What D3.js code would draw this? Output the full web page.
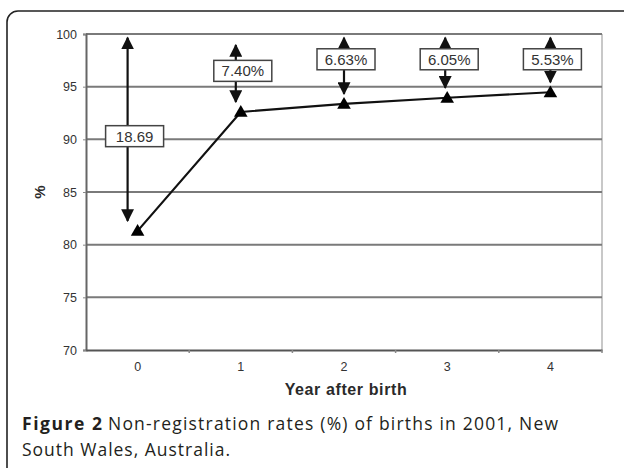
<!DOCTYPE html>
<html>
<head>
<meta charset="utf-8">
<script src="https://cdn.jsdelivr.net/npm/d3@7"></script>
<style>
  body { margin: 0; background: #fff; }
  svg { display: block; }
</style>
</head>
<body>
<div id="graph"></div>
<script>
// chart data
var years = [0, 1, 2, 3, 4];
var rates = [81.31, 92.60, 93.37, 93.95, 94.47]; // registered %
var gapLabels = ["18.69", "7.40%", "6.63%", "6.05%", "5.53%"];
var yTicks = [70, 75, 80, 85, 90, 95, 100];

var W = 624, H = 468;
var margin = { top: 34, right: 22, bottom: 118, left: 86 },
    width = W - margin.left - margin.right,
    height = H - margin.top - margin.bottom;

var root = d3.select("#graph")
    .append("svg")
    .attr("width", W)
    .attr("height", H);

// outer figure frame
root.append("rect")
    .attr("x", 7).attr("y", 11)
    .attr("width", 640).attr("height", 493)
    .attr("rx", 11)
    .attr("fill", "none")
    .attr("stroke", "#222")
    .attr("stroke-width", 1.6);

var svg = root.append("g")
    .attr("transform", "translate(" + margin.left + "," + margin.top + ")");

var x = d3.scaleBand()
    .domain(years)
    .range([0, width])
    .padding(0);

var y = d3.scaleLinear()
    .domain([70, 100])
    .range([height, 0]);

var cx = function(d) { return x(d) + x.bandwidth() / 2; };

// right border
svg.append("line")
    .attr("x1", width).attr("x2", width)
    .attr("y1", 0).attr("y2", height)
    .attr("stroke", "#c8c8c8")
    .attr("stroke-width", 2);

// gridlines
svg.selectAll(".grid")
    .data(yTicks.filter(function(d) { return d > 70; }))
    .enter().append("line")
    .attr("x1", 0).attr("x2", width)
    .attr("y1", function(d) { return y(d); })
    .attr("y2", function(d) { return y(d); })
    .attr("stroke", "#7a7a7a")
    .attr("stroke-width", 2);

// y axis
var yAxis = svg.append("g")
    .call(d3.axisLeft(y).tickValues(yTicks).tickSize(3).tickPadding(6));
yAxis.select(".domain").attr("stroke", "#666").attr("stroke-width", 2);
yAxis.selectAll(".tick line").attr("stroke", "#888");
yAxis.selectAll("text")
    .style("font-family", "Liberation Sans, Arial, sans-serif")
    .style("font-size", "12.5px")
    .attr("fill", "#333");

// x axis
var xAxis = svg.append("g")
    .attr("transform", "translate(0," + height + ")")
    .call(d3.axisBottom(x).tickSize(0).tickPadding(12));
xAxis.select(".domain").attr("stroke", "#555").attr("stroke-width", 2);
xAxis.selectAll("text")
    .style("font-family", "Liberation Sans, Arial, sans-serif")
    .style("font-size", "12.5px")
    .attr("fill", "#333");
// tick marks on band edges
xAxis.selectAll(".edge")
    .data(years.slice(1).concat([5]))
    .enter().append("line")
    .attr("x1", function(d, i) { return i < 4 ? x(years[i + 1]) : width; })
    .attr("x2", function(d, i) { return i < 4 ? x(years[i + 1]) : width; })
    .attr("y1", 0).attr("y2", 3)
    .attr("stroke", "#888")
    .attr("stroke-width", 1.5);

// axis titles
svg.append("text")
    .attr("x", width / 2 + 2)
    .attr("y", height + 45)
    .style("text-anchor", "middle")
    .style("font-family", "Liberation Sans, Arial, sans-serif")
    .style("font-size", "16px")
    .style("font-weight", "bold")
    .style("letter-spacing", "0.6px")
    .attr("fill", "#2a2a2a")
    .text("Year after birth");

svg.append("text")
    .attr("transform", "translate(" + (-41) + "," + (y(85)) + ") rotate(-90)")
    .style("text-anchor", "middle")
    .style("font-family", "Liberation Sans, Arial, sans-serif")
    .style("font-size", "15px")
    .style("font-weight", "bold")
    .attr("fill", "#2a2a2a")
    .text("%");

// arrow heads
var defs = root.append("defs");
defs.append("marker")
    .attr("id", "head")
    .attr("viewBox", "0 0 10 10")
    .attr("refX", 9).attr("refY", 5)
    .attr("markerWidth", 13).attr("markerHeight", 13)
    .attr("markerUnits", "userSpaceOnUse")
    .attr("orient", "auto-start-reverse")
    .append("path")
    .attr("d", "M0,0 L10,5 L0,10 Z")
    .attr("fill", "#111");

// line
var line = d3.line()
    .x(function(d, i) { return cx(years[i]); })
    .y(function(d) { return y(d); });

svg.append("path")
    .datum(rates)
    .attr("d", line)
    .attr("fill", "none")
    .attr("stroke", "#111")
    .attr("stroke-width", 2.2);

// triangle markers
svg.selectAll(".pt")
    .data(rates)
    .enter().append("path")
    .attr("d", d3.symbol().type(d3.symbolTriangle).size(80))
    .attr("transform", function(d, i) { return "translate(" + cx(years[i]) + "," + (y(d) + 1) + ")"; })
    .attr("fill", "#000");

// double arrows showing the gap to 100%
var arrowShift = [-10, -5, 0, -2, 0];
var labelY = [90.3, 96.5, 97.6, 97.6, 97.6];
svg.selectAll(".gap")
    .data(rates)
    .enter().append("line")
    .attr("x1", function(d, i) { return cx(years[i]) + arrowShift[i]; })
    .attr("x2", function(d, i) { return cx(years[i]) + arrowShift[i]; })
    .attr("y1", function(d, i) { return i == 1 ? y(98.95) : y(99.65); })
    .attr("y2", function(d) { return y(d) - 10; })
    .attr("stroke", "#111")
    .attr("stroke-width", 2.2)
    .attr("marker-start", "url(#head)")
    .attr("marker-end", "url(#head)");

// labels in boxes
var lab = svg.selectAll(".lab")
    .data(gapLabels)
    .enter().append("g")
    .attr("transform", function(d, i) { return "translate(" + (cx(years[i]) + (i == 0 ? -3 : 2)) + "," + y(labelY[i]) + ")"; });

lab.append("rect")
    .attr("x", -29).attr("y", -10.5)
    .attr("width", 58).attr("height", 21)
    .attr("fill", "#fff")
    .attr("stroke", "#444")
    .attr("stroke-width", 1.5);

lab.append("text")
    .attr("text-anchor", "middle")
    .attr("dy", "0.36em")
    .style("font-family", "Liberation Sans, Arial, sans-serif")
    .style("font-size", "15px")
    .attr("fill", "#333")
    .text(function(d) { return d; });

// caption
var capStyle = function(t) {
    return t.style("font-family", "Open Sans, Noto Sans, sans-serif")
        .style("font-size", "17.5px")
        .style("font-weight", "500")
        .attr("fill", "#231f20");
};
var fig = capStyle(root.append("text"))
    .attr("x", 22).attr("y", 430)
    .style("font-weight", "bold")
    .attr("lengthAdjust", "spacing")
    .attr("textLength", 80)
    .text("Figure 2");
var figEnd = 22 + 80 + 6;
capStyle(root.append("text"))
    .attr("x", figEnd).attr("y", 430)
    .attr("lengthAdjust", "spacing")
    .attr("textLength", 558 - figEnd)
    .text("Non-registration rates (%) of births in 2001, New");
capStyle(root.append("text"))
    .attr("x", 22).attr("y", 456)
    .attr("lengthAdjust", "spacing")
    .attr("textLength", 208)
    .text("South Wales, Australia.");
</script>
</body>
</html>
